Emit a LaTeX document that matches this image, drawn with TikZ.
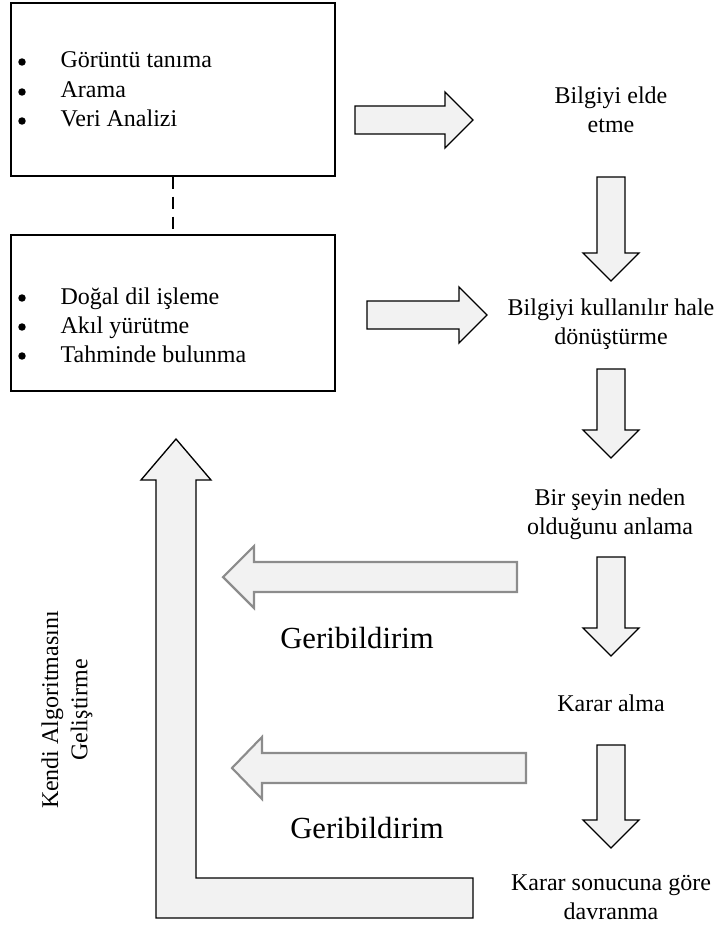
\documentclass[tikz,border=0pt]{standalone}
\usepackage{fontspec}
\setmainfont{Liberation Serif}
\usetikzlibrary{calc}
\definecolor{arrowfill}{HTML}{F2F2F2}
\definecolor{feedgray}{HTML}{8C8C8C}
\tikzset{
  every path/.style={
    line width=1pt
  },
  listbox/.style={
    draw=black,
    line width=1pt,
    inner sep=0pt
  },
  blockarrow/.style={
    draw=black,
    fill=arrowfill,
    line width=1pt,
    line join=miter
  },
  feedarrow/.style={
    draw=feedgray,
    fill=arrowfill,
    line width=1.6pt,
    line join=miter
  },
  listitem/.style={anchor=base west, inner sep=0pt, font=\fontsize{18}{22}\selectfont},
  bulletmark/.style={circle, fill=black, inner sep=0pt, minimum size=5.6pt},
  stage/.style={align=center, inner sep=0pt, font=\fontsize{18}{22}\selectfont},
  feedlabel/.style={anchor=base, inner sep=0pt, font=\fontsize{23}{27}\selectfont}
}

\begin{document}
\begin{tikzpicture}[x=0.75pt, y=-0.75pt]
    \useasboundingbox (0,0) rectangle (719,927);

    % kutular
    \node[listbox, minimum width=243pt, minimum height=129.75pt] (bilgibox) at (173,89.5) {};
    \node[listbox, minimum width=243pt, minimum height=117pt] (islembox) at (173,313) {};
    \draw[dash pattern=on 9pt off 6pt] (bilgibox.south) -- (islembox.north);

    % maddeler
    \node[bulletmark] (m1) at (22,62) {};
    \node[bulletmark] (m2) at (22,92) {};
    \node[bulletmark] (m3) at (22,121) {};
    \node[listitem] (goruntu) at (60,68) {Görüntü tanıma};
    \node[listitem] (arama) at (60,98) {Arama};
    \node[listitem] (veri) at (60,127) {Veri Analizi};
    \node[bulletmark] (m4) at (22,298) {};
    \node[bulletmark] (m5) at (22,327) {};
    \node[bulletmark] (m6) at (22,356) {};
    \node[listitem] (dogal) at (60,304) {Doğal dil işleme};
    \node[listitem] (akil) at (60,333) {Akıl yürütme};
    \node[listitem] (tahmin) at (60,362) {Tahminde bulunma};

    % asamalar
    \node[stage] (elde) at (611,110) {Bilgiyi elde\\etme};
    \node[stage] (donustur) at (611,324) {Bilgiyi kullanılır hale\\dönüştürme};
    \node[stage] (anlama) at (610,514) {Bir şeyin neden\\olduğunu anlama};
    \node[stage] (karar) at (611,703) {Karar alma};
    \node[stage] (davran) at (611,897) {Karar sonucuna göre\\davranma};

    % ok bloklari
    \draw[blockarrow] (355,106) -- (445,106) -- (445,92) -- (473,120) -- (445,148) -- (445,134) -- (355,134) -- cycle;
    \draw[blockarrow] (367,301) -- (459,301) -- (459,287) -- (487,315) -- (459,343) -- (459,329) -- (367,329) -- cycle;
    \draw[blockarrow] (597,177) -- (625,177) -- (625,253) -- (639,253) -- (611,281) -- (583,253) -- (597,253) -- cycle;
    \draw[blockarrow] (597,369) -- (625,369) -- (625,430) -- (639,430) -- (611,458) -- (583,430) -- (597,430) -- cycle;
    \draw[blockarrow] (597,557) -- (625,557) -- (625,628) -- (639,628) -- (611,656) -- (583,628) -- (597,628) -- cycle;
    \draw[blockarrow] (597,745) -- (625,745) -- (625,820) -- (639,820) -- (611,848) -- (583,820) -- (597,820) -- cycle;

    % geribildirim
    \draw[feedarrow] (517,562) -- (254,562) -- (254,546) -- (223,577) -- (254,608) -- (254,592) -- (517,592) -- cycle;
    \draw[feedarrow] (526,753) -- (262,753) -- (262,737) -- (232,768) -- (262,799) -- (262,783) -- (526,783) -- cycle;
    \node[feedlabel] (geri1) at (357,648) {Geribildirim};
    \node[feedlabel] (geri2) at (367,838) {Geribildirim};

    % kendi algoritmasini gelistirme
    \draw[blockarrow] (156,918) -- (473,918) -- (473,878) -- (196,878) -- (196,480) -- (211,480) -- (176,439) -- (141,480) -- (156,480) -- cycle;
    \node[stage, rotate=90] (kendi) at (67,710) {Kendi Algoritmasını\\Geliştirme};
\end{tikzpicture}
\end{document}
